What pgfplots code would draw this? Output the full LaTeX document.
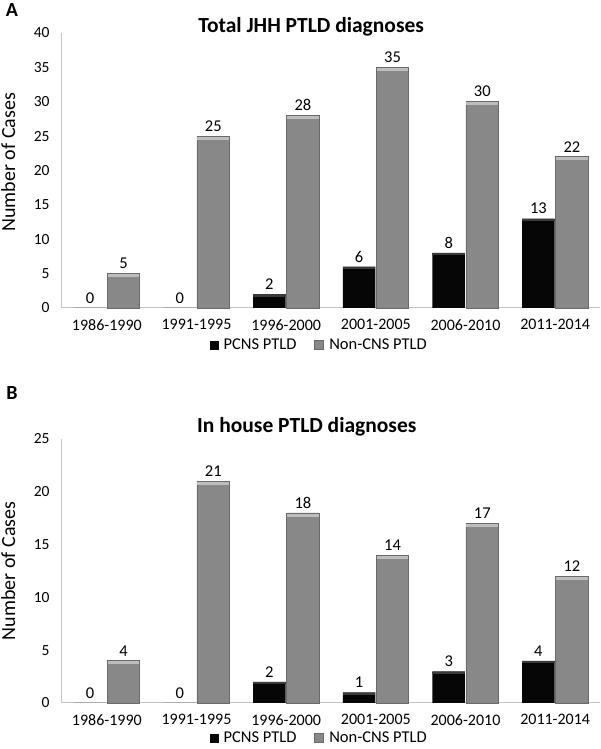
\documentclass[border=0pt]{standalone}
\usepackage{fontspec}
\setmainfont{Carlito}
\usepackage{pgfplots}
\pgfplotsset{compat=1.18}
\definecolor{barblack}{HTML}{060606}
\definecolor{barblacktop}{HTML}{3A3A3A}
\definecolor{bargray}{HTML}{888888}
\definecolor{bargraytop}{HTML}{BDBDBD}
\definecolor{bargrayedge}{HTML}{6A6A6A}
\definecolor{axgray}{HTML}{C4C4C4}
\newcommand{\fs}{\fontsize{16}{19}\selectfont}
\pgfplotsset{
  mystyle/.style={
    scale only axis, width=538pt,
    xmin=-0.5, xmax=5.5, ymin=0,
    axis x line=bottom, axis y line=left,
    axis line style={draw=axgray, line width=1pt, -},
    major tick length=0pt,
    xtick={0,1,2,3,4,5},
    xticklabels={1986-1990,1991-1995,1996-2000,2001-2005,2006-2010,2011-2014},
    ybar, bar width=32.5pt,
    nodes near coords,
    every node near coord/.append style={font=\fontsize{16.5}{19}\selectfont, text=black, yshift=1pt},
    xticklabel style={font=\fs, yshift=-8pt},
    yticklabel style={font=\fontsize{15.5}{18}\selectfont, xshift=-9pt},
    /pgf/number format/assume math mode=true,
    clip=false,
    ylabel={Number of Cases},
    ylabel style={font=\fontsize{20}{24}\selectfont, anchor=center},
    title style={font=\bfseries\fontsize{21.5}{25}\selectfont, anchor=center},
    legend columns=2,
    legend style={draw=none, font=\fontsize{16.5}{19}\selectfont, anchor=center,
      /tikz/every odd column/.append style={column sep=3pt},
      /tikz/every even column/.append style={column sep=16pt}},
    legend image code/.code={\fill[##1] (0pt,-4.5pt) rectangle (9pt,4.5pt);},
  },
  blackbar/.style={fill=barblack, draw=none, bar shift=-16.75pt},
  graybar/.style={fill=bargray, draw=bargrayedge, line width=0.8pt, bar shift=16.75pt},
  graystrip/.style={forget plot, draw=none, fill=none, bar shift=16.75pt,
    nodes near coords={},
    every node near coord/.style={anchor=north, fill=bargraytop, minimum width=31.6pt,
      minimum height=3pt, inner sep=0pt, yshift=-0.4pt, xshift=16.75pt}},
  blackstrip/.style={forget plot, draw=none, fill=none, bar shift=-16.75pt,
    nodes near coords={},
    every node near coord/.style={anchor=north, fill=barblacktop, minimum width=32.5pt,
      minimum height=2.2pt, inner sep=0pt, xshift=-16.75pt}},
}
\begin{document}
\begin{tikzpicture}[x=1pt,y=1pt]
\useasboundingbox (0,0) rectangle (600,749);
\node[font=\bfseries\fontsize{20}{24}\selectfont] at (12,739) {A};
\node[font=\bfseries\fontsize{20}{24}\selectfont] at (12,356) {B};

\begin{axis}[mystyle, at={(62pt,441pt)}, anchor=south west, height=275pt,
  ymax=40, ytick={0,5,...,40},
  title={Total JHH PTLD diagnoses},
  title style={at={(rel axis cs:0.463,1.0)}},
  ylabel style={at={(rel axis cs:-0.1,0.53)}},
  legend style={at={(rel axis cs:0.478,-0.135)}}]
\addplot[blackbar] coordinates {(0,0) (1,0) (2,2) (3,6) (4,8) (5,13)};
\addplot[graybar] coordinates {(0,5) (1,25) (2,28) (3,35) (4,30) (5,22)};
\legend{PCNS PTLD, Non-CNS PTLD}
\addplot[blackstrip] coordinates {(2,2) (3,6) (4,8) (5,13)};
\addplot[graystrip] coordinates {(0,5) (1,25) (2,28) (3,35) (4,30) (5,22)};
\end{axis}

\begin{axis}[mystyle, at={(62pt,46pt)}, anchor=south west, height=264pt,
  ymax=25, ytick={0,5,...,25},
  title={In house PTLD diagnoses},
  title style={at={(rel axis cs:0.455,1.025)}},
  ylabel style={at={(rel axis cs:-0.1,0.5)}},
  legend style={at={(rel axis cs:0.478,-0.134)}}]
\addplot[blackbar] coordinates {(0,0) (1,0) (2,2) (3,1) (4,3) (5,4)};
\addplot[graybar] coordinates {(0,4) (1,21) (2,18) (3,14) (4,17) (5,12)};
\legend{PCNS PTLD, Non-CNS PTLD}
\addplot[blackstrip] coordinates {(2,2) (3,1) (4,3) (5,4)};
\addplot[graystrip] coordinates {(0,4) (1,21) (2,18) (3,14) (4,17) (5,12)};
\end{axis}
\end{tikzpicture}
\end{document}
